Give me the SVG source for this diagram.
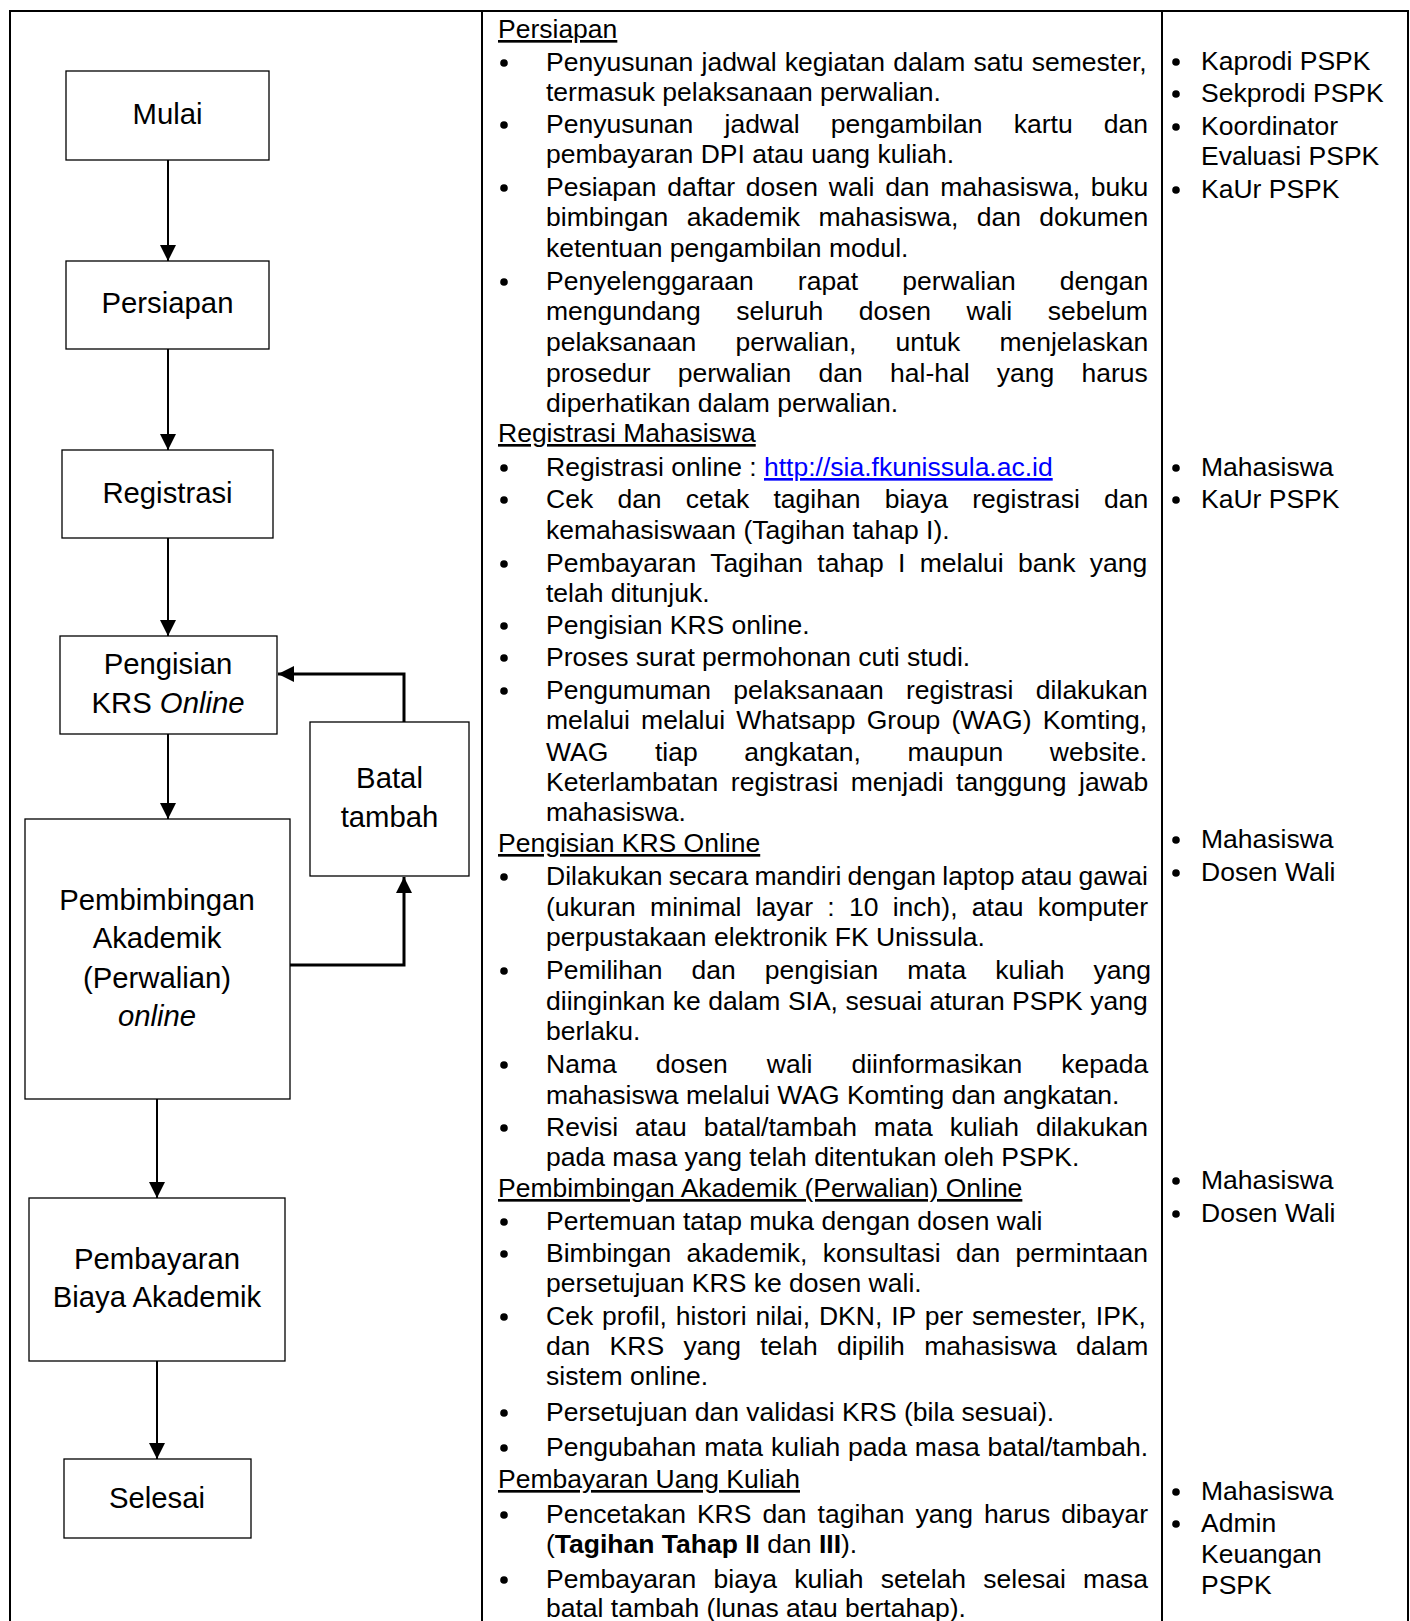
<svg xmlns="http://www.w3.org/2000/svg" width="1410" height="1621" viewBox="0 0 1410 1621">
<style>
.bg{fill:#fff}
.grid{stroke:#000;stroke-width:2;fill:none}
.box{fill:#fff;stroke:#000;stroke-width:1.3}
.lbl{font-family:'Liberation Sans',Arial,sans-serif;font-size:29.3px;text-anchor:middle;fill:#000}
.tx{font-family:'Liberation Sans',Arial,sans-serif;font-size:26.5px;fill:#000}
.hd{text-decoration:underline}
.lnk{fill:#0000ff;text-decoration:underline}
.bold{font-weight:bold}
.it{font-style:italic}
.con{stroke:#000;stroke-width:2;fill:none}
.con3{stroke:#000;stroke-width:3;fill:none}
.dot{fill:#000}
</style>
<defs>
<marker id="ah" viewBox="0 0 16 16" refX="16" refY="8" markerWidth="16" markerHeight="16" markerUnits="userSpaceOnUse" orient="auto">
<path d="M0,0 L16,8 L0,16 z" fill="#000"/>
</marker>
</defs>
<rect class="bg" x="0" y="0" width="1410" height="1621"/>

<g id="table">
<line class="grid" x1="9" y1="11" x2="1409" y2="11"/>
<line class="grid" x1="10" y1="10" x2="10" y2="1621"/>
<line class="grid" x1="482" y1="10" x2="482" y2="1621"/>
<line class="grid" x1="1162" y1="10" x2="1162" y2="1621"/>
<line class="grid" x1="1408" y1="10" x2="1408" y2="1621"/>
</g>

<g id="connectors">
<line class="con" x1="168" y1="160" x2="168" y2="261" marker-end="url(#ah)"/>
<line class="con" x1="168" y1="349" x2="168" y2="450" marker-end="url(#ah)"/>
<line class="con" x1="168" y1="538" x2="168" y2="636" marker-end="url(#ah)"/>
<line class="con" x1="168" y1="734" x2="168" y2="819" marker-end="url(#ah)"/>
<line class="con" x1="157" y1="1099" x2="157" y2="1198" marker-end="url(#ah)"/>
<line class="con" x1="157" y1="1361" x2="157" y2="1459" marker-end="url(#ah)"/>
<polyline class="con3" points="404,722 404,674 278,674" marker-end="url(#ah)"/>
<polyline class="con3" points="290,965 404,965 404,877" marker-end="url(#ah)"/>
</g>

<g id="n-mulai">
<rect class="box" x="66" y="71" width="203" height="89"/>
<text class="lbl" x="167.5" y="124">Mulai</text>
</g>
<g id="n-persiapan">
<rect class="box" x="66" y="261" width="203" height="88"/>
<text class="lbl" x="167.5" y="313">Persiapan</text>
</g>
<g id="n-registrasi">
<rect class="box" x="62" y="450" width="211" height="88"/>
<text class="lbl" x="167.5" y="503">Registrasi</text>
</g>
<g id="n-pengisian">
<rect class="box" x="60" y="636" width="217" height="98"/>
<text class="lbl" x="168" y="674">Pengisian</text>
<text class="lbl" x="168" y="713">KRS <tspan class="it">Online</tspan></text>
</g>
<g id="n-batal">
<rect class="box" x="310" y="722" width="159" height="154"/>
<text class="lbl" x="389.5" y="788">Batal</text>
<text class="lbl" x="389.5" y="827">tambah</text>
</g>
<g id="n-pembimbingan">
<rect class="box" x="25" y="819" width="265" height="280"/>
<text class="lbl" x="157" y="910">Pembimbingan</text>
<text class="lbl" x="157" y="948">Akademik</text>
<text class="lbl" x="157" y="988">(Perwalian)</text>
<text class="lbl it" x="157" y="1026">online</text>
</g>
<g id="n-pembayaran">
<rect class="box" x="29" y="1198" width="256" height="163"/>
<text class="lbl" x="157" y="1269">Pembayaran</text>
<text class="lbl" x="157" y="1307">Biaya Akademik</text>
</g>
<g id="n-selesai">
<rect class="box" x="64" y="1459" width="187" height="79"/>
<text class="lbl" x="157" y="1508">Selesai</text>
</g>

<g id="uraian">
<g class="dot">
<circle cx="504" cy="63" r="3.8"/><circle cx="504" cy="125" r="3.8"/><circle cx="504" cy="188" r="3.8"/><circle cx="504" cy="282" r="3.8"/>
<circle cx="504" cy="468" r="3.8"/><circle cx="504" cy="500" r="3.8"/><circle cx="504" cy="564" r="3.8"/><circle cx="504" cy="626" r="3.8"/><circle cx="504" cy="658" r="3.8"/><circle cx="504" cy="691" r="3.8"/>
<circle cx="504" cy="877" r="3.8"/><circle cx="504" cy="971" r="3.8"/><circle cx="504" cy="1065" r="3.8"/><circle cx="504" cy="1128" r="3.8"/>
<circle cx="504" cy="1222" r="3.8"/><circle cx="504" cy="1254" r="3.8"/><circle cx="504" cy="1317" r="3.8"/><circle cx="504" cy="1413" r="3.8"/><circle cx="504" cy="1448" r="3.8"/>
<circle cx="504" cy="1515" r="3.8"/><circle cx="504" cy="1580" r="3.8"/>
</g>
<text class="tx hd" x="498" y="38">Persiapan</text>
<text class="tx" x="546" y="71" word-spacing="0.8">Penyusunan jadwal kegiatan dalam satu semester,</text>
<text class="tx" x="546" y="101">termasuk pelaksanaan perwalian.</text>
<text class="tx" x="546" y="133" word-spacing="23.8">Penyusunan jadwal pengambilan kartu dan</text>
<text class="tx" x="546" y="163">pembayaran DPI atau uang kuliah.</text>
<text class="tx" x="546" y="196" word-spacing="3.4">Pesiapan daftar dosen wali dan mahasiswa, buku</text>
<text class="tx" x="546" y="226" word-spacing="11">bimbingan akademik mahasiswa, dan dokumen</text>
<text class="tx" x="546" y="257">ketentuan pengambilan modul.</text>
<text class="tx" x="546" y="290" word-spacing="36.7">Penyelenggaraan rapat perwalian dengan</text>
<text class="tx" x="546" y="320" word-spacing="28.2">mengundang seluruh dosen wali sebelum</text>
<text class="tx" x="546" y="351" word-spacing="31.8">pelaksanaan perwalian, untuk menjelaskan</text>
<text class="tx" x="546" y="382" word-spacing="19.9">prosedur perwalian dan hal-hal yang harus</text>
<text class="tx" x="546" y="412">diperhatikan dalam perwalian.</text>

<text class="tx hd" x="498" y="442">Registrasi Mahasiswa</text>
<text class="tx" x="546" y="476">Registrasi online : <tspan class="lnk">http://sia.fkunissula.ac.id</tspan></text>
<text class="tx" x="546" y="508" word-spacing="16.9">Cek dan cetak tagihan biaya registrasi dan</text>
<text class="tx" x="546" y="539">kemahasiswaan (Tagihan tahap I).</text>
<text class="tx" x="546" y="572" word-spacing="7">Pembayaran Tagihan tahap I melalui bank yang</text>
<text class="tx" x="546" y="602">telah ditunjuk.</text>
<text class="tx" x="546" y="634">Pengisian KRS online.</text>
<text class="tx" x="546" y="666">Proses surat permohonan cuti studi.</text>
<text class="tx" x="546" y="699" word-spacing="15">Pengumuman pelaksanaan registrasi dilakukan</text>
<text class="tx" x="546" y="729" word-spacing="3.8">melalui melalui Whatsapp Group (WAG) Komting,</text>
<text class="tx" x="546" y="761" word-spacing="39.3">WAG tiap angkatan, maupun website.</text>
<text class="tx" x="546" y="791" word-spacing="5.1">Keterlambatan registrasi menjadi tanggung jawab</text>
<text class="tx" x="546" y="821">mahasiswa.</text>

<text class="tx hd" x="498" y="852">Pengisian KRS Online</text>
<text class="tx" x="546" y="885" word-spacing="-1.1">Dilakukan secara mandiri dengan laptop atau gawai</text>
<text class="tx" x="546" y="916" word-spacing="6.9">(ukuran minimal layar : 10 inch), atau komputer</text>
<text class="tx" x="546" y="946">perpustakaan elektronik FK Unissula.</text>
<text class="tx" x="546" y="979" word-spacing="21.7">Pemilihan dan pengisian mata kuliah yang</text>
<text class="tx" x="546" y="1010" word-spacing="0.1">diinginkan ke dalam SIA, sesuai aturan PSPK yang</text>
<text class="tx" x="546" y="1040">berlaku.</text>
<text class="tx" x="546" y="1073" word-spacing="31.6">Nama dosen wali diinformasikan kepada</text>
<text class="tx" x="546" y="1104">mahasiswa melalui WAG Komting dan angkatan.</text>
<text class="tx" x="546" y="1136" word-spacing="9.6">Revisi atau batal/tambah mata kuliah dilakukan</text>
<text class="tx" x="546" y="1166">pada masa yang telah ditentukan oleh PSPK.</text>

<text class="tx hd" x="498" y="1197">Pembimbingan Akademik (Perwalian) Online</text>
<text class="tx" x="546" y="1230">Pertemuan tatap muka dengan dosen wali</text>
<text class="tx" x="546" y="1262" word-spacing="8">Bimbingan akademik, konsultasi dan permintaan</text>
<text class="tx" x="546" y="1292">persetujuan KRS ke dosen wali.</text>
<text class="tx" x="546" y="1325" word-spacing="1.6">Cek profil, histori nilai, DKN, IP per semester, IPK,</text>
<text class="tx" x="546" y="1355" word-spacing="12">dan KRS yang telah dipilih mahasiswa dalam</text>
<text class="tx" x="546" y="1385">sistem online.</text>
<text class="tx" x="546" y="1421">Persetujuan dan validasi KRS (bila sesuai).</text>
<text class="tx" x="546" y="1456" word-spacing="0.5">Pengubahan mata kuliah pada masa batal/tambah.</text>

<text class="tx hd" x="498" y="1488">Pembayaran Uang Kuliah</text>
<text class="tx" x="546" y="1523" word-spacing="3.6">Pencetakan KRS dan tagihan yang harus dibayar</text>
<text class="tx" x="546" y="1553">(<tspan class="bold">Tagihan Tahap II</tspan> dan <tspan class="bold">III</tspan>).</text>
<text class="tx" x="546" y="1588" word-spacing="9.9">Pembayaran biaya kuliah setelah selesai masa</text>
<text class="tx" x="546" y="1617">batal tambah (lunas atau bertahap).</text>
</g>

<g id="pelaksana">
<g class="dot">
<circle cx="1176" cy="62" r="3.8"/><circle cx="1176" cy="94" r="3.8"/><circle cx="1176" cy="127" r="3.8"/><circle cx="1176" cy="190" r="3.8"/>
<circle cx="1176" cy="468" r="3.8"/><circle cx="1176" cy="500" r="3.8"/>
<circle cx="1176" cy="840" r="3.8"/><circle cx="1176" cy="873" r="3.8"/>
<circle cx="1176" cy="1181" r="3.8"/><circle cx="1176" cy="1214" r="3.8"/>
<circle cx="1176" cy="1492" r="3.8"/><circle cx="1176" cy="1524" r="3.8"/>
</g>
<text class="tx" x="1201" y="70">Kaprodi PSPK</text>
<text class="tx" x="1201" y="102">Sekprodi PSPK</text>
<text class="tx" x="1201" y="135">Koordinator</text>
<text class="tx" x="1201" y="165">Evaluasi PSPK</text>
<text class="tx" x="1201" y="198">KaUr PSPK</text>
<text class="tx" x="1201" y="476">Mahasiswa</text>
<text class="tx" x="1201" y="508">KaUr PSPK</text>
<text class="tx" x="1201" y="848">Mahasiswa</text>
<text class="tx" x="1201" y="881">Dosen Wali</text>
<text class="tx" x="1201" y="1189">Mahasiswa</text>
<text class="tx" x="1201" y="1222">Dosen Wali</text>
<text class="tx" x="1201" y="1500">Mahasiswa</text>
<text class="tx" x="1201" y="1532">Admin</text>
<text class="tx" x="1201" y="1563">Keuangan</text>
<text class="tx" x="1201" y="1594">PSPK</text>
</g>
</svg>
